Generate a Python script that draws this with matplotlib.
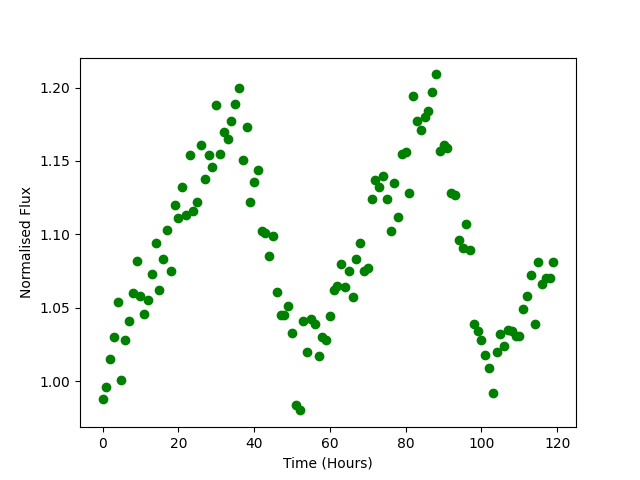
#!/usr/bin/env python3
"""
Light curve: normalised flux against time in hours.
"""

import numpy as np
import matplotlib
matplotlib.use('Agg')
import matplotlib.pyplot as plt

# One reading per hour, 0..119
time_hours = np.arange(0, 120)

flux = [
    0.988, 0.996, 1.015, 1.030, 1.054, 1.001, 1.028, 1.041, 1.060, 1.082,
    1.058, 1.046, 1.055, 1.073, 1.094, 1.062, 1.083, 1.103, 1.075, 1.120,
    1.111, 1.132, 1.113, 1.154, 1.116, 1.122, 1.161, 1.138, 1.154, 1.146,
    1.188, 1.155, 1.170, 1.165, 1.177, 1.189, 1.200, 1.151, 1.173, 1.122,
    1.136, 1.144, 1.102, 1.101, 1.085, 1.099, 1.061, 1.045, 1.045, 1.051,
    1.033, 0.984, 0.980, 1.041, 1.020, 1.042, 1.039, 1.017, 1.030, 1.028,
    1.044, 1.062, 1.065, 1.080, 1.064, 1.075, 1.057, 1.083, 1.094, 1.075,
    1.077, 1.124, 1.137, 1.132, 1.140, 1.124, 1.102, 1.135, 1.112, 1.155,
    1.156, 1.128, 1.194, 1.177, 1.171, 1.180, 1.184, 1.197, 1.209, 1.157,
    1.161, 1.159, 1.128, 1.127, 1.096, 1.091, 1.107, 1.089, 1.039, 1.034,
    1.028, 1.018, 1.009, 0.992, 1.020, 1.032, 1.024, 1.035, 1.034, 1.031,
    1.031, 1.049, 1.058, 1.072, 1.039, 1.081, 1.066, 1.070, 1.070, 1.081,
]

plt.figure(figsize=(6.4, 4.8))
plt.plot(time_hours, flux, 'go')
plt.xlabel('Time (Hours)')
plt.ylabel('Normalised Flux')

plt.savefig('out.png', dpi=100)
